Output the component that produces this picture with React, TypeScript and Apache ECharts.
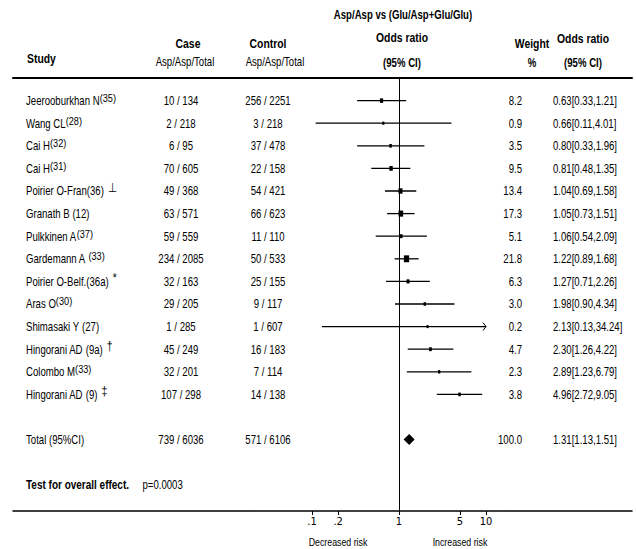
import React, { useEffect, useRef } from "react";
import * as echarts from "echarts";

// ---------- data ----------
const studyNames = [
  "Jeerooburkhan N", "Wang CL", "Cai H", "Cai H", "Poirier O-Fran", "Granath B ",
  "Pulkkinen A", "Gardemann A ", "Poirier O-Belf.", "Aras O", "Shimasaki Y ",
  "Hingorani AD ", "Colombo M", "Hingorani AD ",
];
const studyRefs = ["(35)", "(28)", "(32)", "(31)", "(36)", "(12)", "(37)", "(33)", "(36a)", "(30)", "(27)", "(9a)", "(33)", "(9)"];
const refRaised = [true, true, true, true, false, false, true, true, false, true, false, false, true, false];
const studyMarks = ["", "", "", "", "⊥", "", "", "", "*", "", "", "†", "", "‡"];
const caseEvents = [10, 2, 6, 70, 49, 63, 59, 234, 32, 29, 1, 45, 32, 107];
const caseTotals = [134, 218, 95, 605, 368, 571, 559, 2085, 163, 205, 285, 249, 201, 298];
const controlEvents = [256, 3, 37, 22, 54, 66, 11, 50, 25, 9, 1, 16, 7, 14];
const controlTotals = [2251, 218, 478, 158, 421, 623, 110, 533, 155, 117, 607, 183, 114, 138];
const weights = [8.2, 0.9, 3.5, 9.5, 13.4, 17.3, 5.1, 21.8, 6.3, 3.0, 0.2, 4.7, 2.3, 3.8];
const oddsRatios = [0.63, 0.66, 0.8, 0.81, 1.04, 1.05, 1.06, 1.22, 1.27, 1.98, 2.13, 2.3, 2.89, 4.96];
const ciLower = [0.33, 0.11, 0.33, 0.48, 0.69, 0.73, 0.54, 0.89, 0.71, 0.9, 0.13, 1.26, 1.23, 2.72];
const ciUpper = [1.21, 4.01, 1.96, 1.35, 1.58, 1.51, 2.09, 1.68, 2.26, 4.34, 34.24, 4.22, 6.79, 9.05];

const totalLabel = "Total (95%CI)";
const totalCase = [739, 6036];
const totalControl = [571, 6106];
const totalWeight = 100.0;
const totalOR = [1.31, 1.13, 1.51];
const overallP = "p=0.0003";

const tickValues = [0.1, 0.2, 1, 5, 10];
const tickLabels = [".1", ".2", "1", "5", "10"];
const plotMaxOR = 10;

// ---------- layout ----------
const FONT = '"Liberation Sans", Arial, sans-serif';
const SX = 0.8; // narrow typeface look
const W = 636, H = 549;
const GRID_L = 13, GRID_R = 4, GRID_T = 78, GRID_B = 38;
const ONE_X = 399, DECADE = 87;
const ROW_PX = 22.6;
const TOTAL_ROW = 16, TEST_ROW = 18;
const COL_STUDY = 26, COL_CASE = 181, COL_CONTROL = 268, COL_WEIGHT = 522, COL_OR = 553;

const fmt2 = (v: number) => v.toFixed(2);
const orText = (o: number, l: number, u: number) => `${fmt2(o)}[${fmt2(l)},${fmt2(u)}]`;

type Cell = { x: number; row: number; text: string; align: string };

const RICH = {
  n: { fontFamily: FONT, fontSize: 12, fill: "#000", color: "#000" },
  s: { fontFamily: FONT, fontSize: 11.5, fill: "#000", color: "#000", padding: [0, 0, 5, 0] },
  m: { fontFamily: FONT, fontSize: 13, fill: "#000", color: "#000", padding: [0, 0, 8, 5] },
  b: { fontFamily: FONT, fontSize: 12.5, fontWeight: "bold", fill: "#000", color: "#000" },
};

export default function App() {
  const ref = useRef<HTMLDivElement>(null);
  useEffect(() => {
    document.body.style.margin = "0";
    const chart = echarts.init(ref.current!, null, { renderer: "svg" });
    const rows = studyNames.map((_, i) => i + 1);

    const cells: Cell[] = [];
    studyNames.forEach((n, i) => {
      const refPart = refRaised[i] ? `{s|${studyRefs[i]}}` : `{n|${studyRefs[i]}}`;
      const mark = studyMarks[i] ? `{m|${studyMarks[i]}}` : "";
      cells.push({ x: COL_STUDY, row: rows[i], text: `{n|${n}}${refPart}${mark}`, align: "left" });
      cells.push({ x: COL_CASE, row: rows[i], text: `{n|${caseEvents[i]} / ${caseTotals[i]}}`, align: "center" });
      cells.push({ x: COL_CONTROL, row: rows[i], text: `{n|${controlEvents[i]} / ${controlTotals[i]}}`, align: "center" });
      cells.push({ x: COL_WEIGHT, row: rows[i], text: `{n|${weights[i].toFixed(1)}}`, align: "right" });
      cells.push({ x: COL_OR, row: rows[i], text: `{n|${orText(oddsRatios[i], ciLower[i], ciUpper[i])}}`, align: "left" });
    });
    cells.push({ x: COL_STUDY, row: TOTAL_ROW, text: `{n|${totalLabel}}`, align: "left" });
    cells.push({ x: COL_CASE, row: TOTAL_ROW, text: `{n|${totalCase[0]} / ${totalCase[1]}}`, align: "center" });
    cells.push({ x: COL_CONTROL, row: TOTAL_ROW, text: `{n|${totalControl[0]} / ${totalControl[1]}}`, align: "center" });
    cells.push({ x: COL_WEIGHT, row: TOTAL_ROW, text: `{n|${totalWeight.toFixed(1)}}`, align: "right" });
    cells.push({ x: COL_OR, row: TOTAL_ROW, text: `{n|${orText(totalOR[0], totalOR[1], totalOR[2])}}`, align: "left" });
    cells.push({ x: COL_STUDY, row: TEST_ROW, text: `{b|Test for overall effect.}{n|     ${overallP}}`, align: "left" });

    const forestData = oddsRatios.map((o, i) => [
      Math.log10(o), rows[i], Math.log10(ciLower[i]), Math.log10(Math.min(ciUpper[i], plotMaxOR)),
      weights[i], ciUpper[i] > plotMaxOR ? 1 : 0,
    ]);

    const hdr = (text: string, x: number, y: number, align: string, size: number, bold = true) => ({
      type: "text", x, y, scaleX: SX, silent: true,
      style: { text, x: 0, y: 0, fill: "#000", font: `${bold ? "bold " : ""}${size}px ${FONT}`, align, verticalAlign: "middle" },
    });

    chart.setOption({
      animation: false,
      backgroundColor: "#fff",
      grid: { left: GRID_L, right: GRID_R, top: GRID_T, bottom: GRID_B, containLabel: false },
      xAxis: [
        {
          type: "value",
          min: (GRID_L - ONE_X) / DECADE,
          max: (W - GRID_R - ONE_X) / DECADE,
          position: "bottom",
          axisLine: { show: true, onZero: false, lineStyle: { color: "#000", width: 1.5 } },
          axisTick: { show: true, customValues: tickValues.map((v) => Math.log10(v)), length: 4, lineStyle: { color: "#000", width: 1 } },
          axisLabel: {
            show: true,
            customValues: tickValues.map((v) => Math.log10(v)),
            formatter: (v: number) => {
              const k = tickValues.findIndex((t) => Math.abs(Math.log10(t) - v) < 1e-6);
              return k >= 0 ? tickLabels[k] : "";
            },
            color: "#000", fontFamily: '"Liberation Sans Narrow", "DejaVu Sans Condensed", sans-serif', fontSize: 11, margin: 5,
          },
          splitLine: { show: false },
        },
        {
          type: "value",
          min: GRID_L,
          max: W - GRID_R,
          position: "top",
          axisLine: { show: true, onZero: false, lineStyle: { color: "#000", width: 2 } },
          axisTick: { show: false },
          axisLabel: { show: false },
          splitLine: { show: false },
        },
      ],
      yAxis: {
        type: "value",
        inverse: true,
        min: 0,
        max: (H - GRID_B - GRID_T) / ROW_PX,
        show: false,
        splitLine: { show: false },
      },
      series: [
        {
          type: "custom",
          name: "studies",
          xAxisIndex: 0,
          yAxisIndex: 0,
          silent: true,
          data: forestData,
          renderItem: (params: any, api: any) => {
            const y = api.value(1);
            const pOr = api.coord([api.value(0), y]);
            const pLo = api.coord([api.value(2), y]);
            const pHi = api.coord([api.value(3), y]);
            const w = api.value(4);
            const bw = 2 + w * 0.15, bh = 3 + w * 0.18;
            const children: any[] = [
              { type: "line", shape: { x1: pLo[0], y1: pLo[1], x2: pHi[0], y2: pHi[1] }, style: { stroke: "#000", lineWidth: 1.3 } },
              { type: "rect", shape: { x: pOr[0] - bw / 2, y: pOr[1] - bh / 2, width: bw, height: bh }, style: { fill: "#000" } },
            ];
            if (api.value(5) === 1) {
              children.push({
                type: "polyline",
                shape: { points: [[pHi[0] - 3, pHi[1] - 4], [pHi[0], pHi[1]], [pHi[0] - 3, pHi[1] + 4]] },
                style: { stroke: "#000", fill: "none", lineWidth: 1 },
              });
            }
            return { type: "group", children };
          },
          markLine: {
            silent: true,
            symbol: ["none", "none"],
            label: { show: false },
            lineStyle: { color: "#000", width: 1, type: "solid" },
            data: [{ xAxis: 0 }],
          },
        },
        {
          type: "custom",
          name: "total",
          xAxisIndex: 0,
          yAxisIndex: 0,
          silent: true,
          data: [[Math.log10(totalOR[0]), TOTAL_ROW, Math.log10(totalOR[1]), Math.log10(totalOR[2])]],
          renderItem: (params: any, api: any) => {
            const y = api.value(1);
            const c = api.coord([api.value(0), y]);
            const l = api.coord([api.value(2), y]);
            const r = api.coord([api.value(3), y]);
            return {
              type: "polygon",
              shape: { points: [[l[0], c[1]], [c[0], c[1] - 5.5], [r[0], c[1]], [c[0], c[1] + 5.5]] },
              style: { fill: "#000" },
            };
          },
        },
        {
          type: "custom",
          name: "table",
          xAxisIndex: 1,
          yAxisIndex: 0,
          silent: true,
          data: cells.map((c) => [c.x, c.row]),
          renderItem: (params: any, api: any) => {
            const c = cells[params.dataIndex];
            const p = api.coord([api.value(0), api.value(1)]);
            return {
              type: "text",
              x: p[0],
              y: p[1],
              scaleX: SX,
              style: {
                text: c.text,
                x: 0,
                y: 0,
                align: c.align,
                verticalAlign: "middle",
                fill: "#000",
                font: `12px ${FONT}`,
                rich: RICH,
              },
            };
          },
        },
      ],
      graphic: [
        hdr("Asp/Asp vs (Glu/Asp+Glu/Glu)", 403, 15, "center", 12),
        hdr("Odds ratio", 402, 37, "center", 13),
        hdr("(95% CI)", 402, 63, "center", 12),
        hdr("Weight", 532, 43, "center", 13),
        hdr("%", 532, 63, "center", 12),
        hdr("Odds ratio", 583, 38, "center", 13),
        hdr("(95% CI)", 583, 63, "center", 12),
        hdr("Study", 27, 58, "left", 13),
        hdr("Case", 188, 43, "center", 13),
        hdr("Asp/Asp/Total", 185, 62, "center", 12, false),
        hdr("Control", 268, 43, "center", 13),
        hdr("Asp/Asp/Total", 275, 62, "center", 12, false),
        hdr("Decreased risk", 338, 542, "center", 11, false),
        hdr("Increased risk", 460, 542, "center", 11, false),
      ],
    });
    return () => chart.dispose();
  }, []);
  return <div ref={ref} style={{ width: W, height: H }} />;
}
